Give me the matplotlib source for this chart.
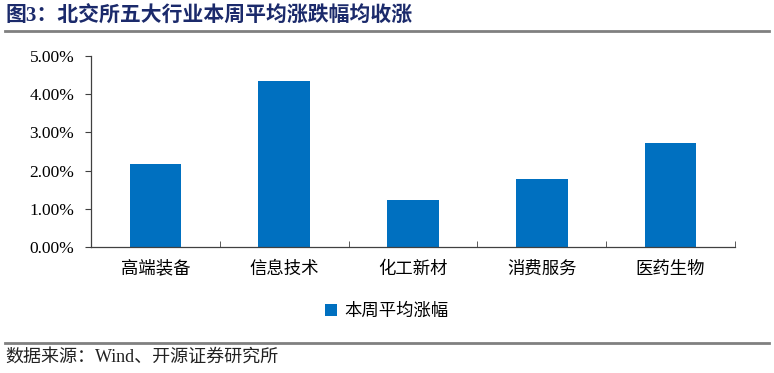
import matplotlib
matplotlib.use('Agg')
import matplotlib.pyplot as plt
from matplotlib.lines import Line2D
from matplotlib.ticker import FuncFormatter, MultipleLocator

plt.rcParams['font.family'] = ['Liberation Serif', 'Noto Sans CJK SC']

categories = ['高端装备', '信息技术', '化工新材', '消费服务', '医药生物']
avg_change = [2.18, 4.35, 1.23, 1.79, 2.73]  # %
series_name = '本周平均涨幅'
title = '图3：北交所五大行业本周平均涨跌幅均收涨'
source = '数据来源：Wind、开源证券研究所'

bar_color = '#0070C0'

fig = plt.figure(figsize=(7.74, 3.73), dpi=100)
ax = fig.add_axes([0.1176, 0.3378, 0.832, 0.5121])

x = range(len(categories))
ax.bar(x, avg_change, width=0.4, color=bar_color, label=series_name)

ax.set_xlim(-0.5, len(categories) - 0.5)
ax.set_ylim(0, 5)
ax.yaxis.set_major_locator(MultipleLocator(1))
ax.yaxis.set_major_formatter(FuncFormatter(lambda v, p: '{:.2f}%'.format(v)))

ax.set_xticks(list(x))
ax.set_xticklabels(categories, fontfamily=['Noto Sans CJK SC'], fontsize=12.5)
ax.tick_params(axis='x', length=0, pad=9)
# boundary ticks pointing up
ax.set_xticks([i - 0.5 for i in range(len(categories) + 1)], minor=True)
ax.tick_params(axis='x', which='minor', direction='in', length=4, color='#404040')
ax.tick_params(axis='y', direction='out', length=4, color='#404040', labelsize=12.5, pad=8)

for s in ['top', 'right']:
    ax.spines[s].set_visible(False)
for s in ['left', 'bottom']:
    ax.spines[s].set_color('#404040')
    ax.spines[s].set_linewidth(0.9)

leg = fig.legend(loc='center', bbox_to_anchor=(0.5, 0.166), frameon=False,
                 handlelength=0.7, handleheight=0.7, handletextpad=0.4,
                 prop={'family': 'Noto Sans CJK SC', 'size': 12.5})

fig.text(0.007, 0.955, title, fontsize=15, fontweight='bold', color='#1b2a6b',
         fontfamily=['Liberation Serif', 'Noto Sans CJK SC'], va='center', ha='left')
fig.text(0.007, 0.042, source, fontsize=13, color='#222222',
         fontfamily=['Liberation Serif', 'Noto Sans CJK SC'], va='center', ha='left')

fig.add_artist(Line2D([0.006, 0.993], [1 - 31 / 373] * 2, color='#808080', linewidth=2))
fig.add_artist(Line2D([0.006, 0.993], [1 - 343 / 373] * 2, color='#808080', linewidth=2))

fig.savefig('out.png', dpi=100)
